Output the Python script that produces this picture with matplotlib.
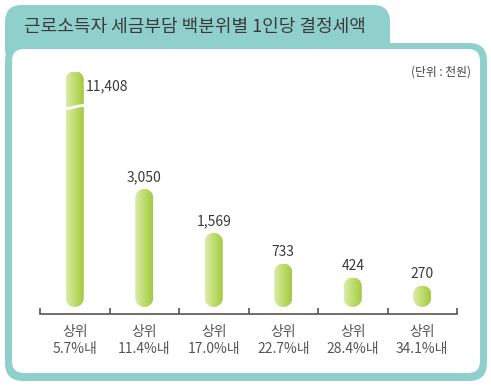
import numpy as np
import matplotlib
matplotlib.use("Agg")
import matplotlib.pyplot as plt
from matplotlib.patches import FancyBboxPatch, Polygon
from matplotlib.transforms import IdentityTransform
from matplotlib.colors import LinearSegmentedColormap

plt.rcParams['font.family'] = ['Noto Sans CJK KR', 'DejaVu Sans']

# data (천원)
groups = ["상위\n5.7%내", "상위\n11.4%내", "상위\n17.0%내", "상위\n22.7%내", "상위\n28.4%내", "상위\n34.1%내"]
values = [11408, 3050, 1569, 733, 424, 270]
title = "근로소득자 세금부담 백분위별 1인당 결정세액"
unit = "(단위 : 천원)"

BREAK_TOP = 8200   # first bar is cut off here (axis break)
YMAX = 8500
POW = 0.7          # compressed value scale used by the original artwork

teal = "#8fd0cc"
txt = "#3a3a3a"
bar_cmap = LinearSegmentedColormap.from_list("bar", ["#d9eba6", "#bddc6a", "#a2c843"])


def capsule(x0, y0, x1, y1):
    # pill outline in display coords
    r = (x1 - x0) / 2
    xc = (x0 + x1) / 2
    a_top = np.linspace(0, np.pi, 30)
    a_bot = np.linspace(np.pi, 2 * np.pi, 30)
    top = np.column_stack([xc + r * np.cos(a_top), y1 - r + r * np.sin(a_top)])
    bot = np.column_stack([xc + r * np.cos(a_bot), y0 + r + r * np.sin(a_bot)])
    return np.vstack([top, bot])


fig = plt.figure(figsize=(4.91, 3.91), dpi=100)

# frame / title tab, drawn in pixel coords
bg = fig.add_axes([0, 0, 1, 1], zorder=0)
bg.set_xlim(0, 491)
bg.set_ylim(391, 0)
bg.axis("off")
bg.add_patch(FancyBboxPatch((5, 5), 385, 60, boxstyle="round,pad=0,rounding_size=17",
                            fc=teal, ec="none"))
bg.add_patch(FancyBboxPatch((5, 43), 482, 338, boxstyle="round,pad=0,rounding_size=18",
                            fc=teal, ec="none"))
bg.add_patch(FancyBboxPatch((12, 49), 468, 324, boxstyle="round,pad=0,rounding_size=12",
                            fc="white", ec="none"))
bg.text(24, 27, title, fontsize=13, color=txt, ha="left", va="center")
bg.text(471, 72, unit, fontsize=8.5, color="#444444", ha="right", va="center")

# chart
ax = fig.add_axes([40 / 491, (391 - 307) / 391, 417 / 491, 242 / 391], zorder=1)
ax.patch.set_alpha(0)
fwd = lambda v: np.sign(v) * np.abs(v) ** POW
inv = lambda u: np.sign(u) * np.abs(u) ** (1 / POW)
ax.set_yscale("function", functions=(fwd, inv))

for s in ["left", "right", "top"]:
    ax.spines[s].set_visible(False)
ax.spines["bottom"].set_position(("outward", 5))
ax.spines["bottom"].set_color("#555555")
ax.spines["bottom"].set_linewidth(1.2)
ax.set_yticks([])

x = np.arange(len(values))
ax.set_xticks(x)
ax.set_xticklabels(groups, fontsize=10, color="#555555", linespacing=1.3)
ax.set_xticks(np.arange(len(values) + 1) - 0.5, minor=True)
ax.tick_params(axis="x", which="major", length=0, pad=8)
ax.tick_params(axis="x", which="minor", direction="in", length=4.5, width=1.2, color="#555555")
ax.set_xlim(-0.5, len(values) - 0.5)
ax.set_ylim(0, YMAX)

w = 0.26
grad = np.linspace(0, 1, 64).reshape(1, -1)
for i, v in enumerate(values):
    shown = min(v, BREAK_TOP)
    x0, y0 = ax.transData.transform((i - w / 2, 0))
    x1, y1 = ax.transData.transform((i + w / 2, shown))
    pill = Polygon(capsule(x0, y0, x1, y1), closed=True,
                   transform=IdentityTransform(), fc="none", ec="none")
    ax.add_patch(pill)
    ax.imshow(grad, extent=(i - w / 2, i + w / 2, 0, shown), aspect="auto",
              cmap=bar_cmap, clip_path=pill, zorder=2, interpolation="bilinear")
    if v > BREAK_TOP:
        # wavy break mark
        xs = np.linspace(x0 - 1, x1 + 1, 40)
        t = (xs - xs[0]) / (xs[-1] - xs[0])
        ys = (y1 - 36) + 1.6 * np.sin(np.pi * (t - 0.5))
        ax.plot(xs, ys, color="white", lw=2.0, transform=IdentityTransform(), zorder=3,
                solid_capstyle="butt")
        ax.annotate(f"{v:,}", (i + w / 2, shown), xytext=(1.5, -11), textcoords="offset points",
                    ha="left", va="center", fontsize=10, color=txt)
    else:
        ax.annotate(f"{v:,}", (i, shown), xytext=(0, 3), textcoords="offset points",
                    ha="center", va="bottom", fontsize=10, color=txt)

ax.set_xlim(-0.5, len(values) - 0.5)
ax.set_ylim(0, YMAX)

fig.savefig("out.png", dpi=100)
